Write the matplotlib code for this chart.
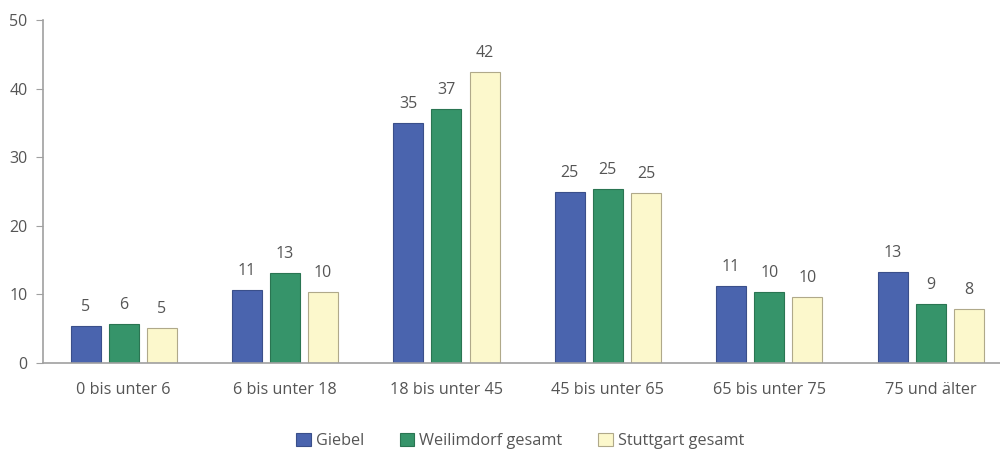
import matplotlib.pyplot as plt
import numpy as np

categories = ["0 bis unter 6", "6 bis unter 18", "18 bis unter 45",
              "45 bis unter 65", "65 bis unter 75", "75 und älter"]
giebel = [5.4, 10.6, 35.0, 24.9, 11.2, 13.3]
weilimdorf = [5.7, 13.1, 37.0, 25.4, 10.3, 8.6]
stuttgart = [5.1, 10.3, 42.4, 24.8, 9.6, 7.9]
series_names = ["Giebel", "Weilimdorf gesamt", "Stuttgart gesamt"]

colors = ["#4a64ae", "#36946a", "#fcf8cc"]
edges = ["#3a4f8a", "#2a7552", "#b0a98a"]
text_color = "#555555"
axis_color = "#a0a0a0"

plt.rcParams["font.family"] = ["Open Sans", "DejaVu Sans"]

fig = plt.figure(figsize=(10, 4.57), dpi=100)
ax = fig.add_axes([0.043, 0.206, 0.957, 0.75])

x = np.arange(len(categories))
width = 0.186
step = 0.236
for i, (vals, name) in enumerate(zip([giebel, weilimdorf, stuttgart], series_names)):
    pos = x + (i - 1) * step
    bars = ax.bar(pos, vals, width, color=colors[i], edgecolor=edges[i],
                  linewidth=0.8, label=name)
    for b, v in zip(bars, vals):
        ax.text(b.get_x() + b.get_width() / 2, v + 1.6, f"{round(v):d}",
                ha="center", va="bottom", fontsize=11.5, color=text_color)

ax.set_xlim(-0.5, 5.43)
ax.set_ylim(0, 50)
ax.set_yticks(range(0, 51, 10))
ax.set_xticks(x)
ax.set_xticklabels(categories)
ax.tick_params(axis="x", length=0, pad=14, labelsize=11.7, labelcolor=text_color)
ax.tick_params(axis="y", length=5, width=0.8, color=axis_color, pad=6,
               labelsize=11.5, labelcolor=text_color)
for side in ["top", "right"]:
    ax.spines[side].set_visible(False)
for side in ["left", "bottom"]:
    ax.spines[side].set_color(axis_color)
    ax.spines[side].set_linewidth(1.2)

leg = fig.legend(loc="lower center", bbox_to_anchor=(0.52, -0.015), ncol=3,
                 frameon=False, fontsize=11.7, handlelength=0.9, handleheight=0.9,
                 handletextpad=0.3, columnspacing=2.2)
for t in leg.get_texts():
    t.set_color(text_color)

fig.savefig("out.png", dpi=100)
